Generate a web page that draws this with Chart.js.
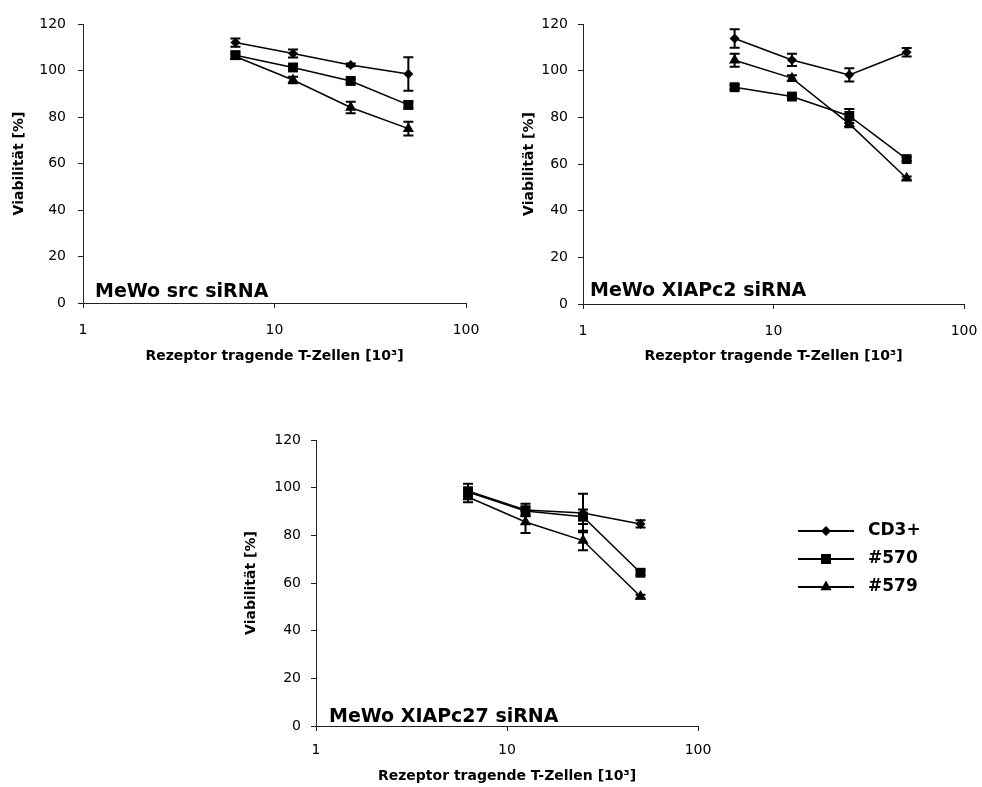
<!DOCTYPE html>
<html>
<head>
<meta charset="utf-8">
<script src="https://cdn.jsdelivr.net/npm/chart.js@4.4.0/dist/chart.umd.min.js"></script>
<style>
  body { margin: 0; width: 982px; height: 787px; overflow: hidden; background: #fff; }
  canvas { position: absolute; }
</style>
</head>
<body>
<canvas id="srcChart" width="480" height="365" style="left:0;top:0"></canvas>
<canvas id="c2Chart" width="492" height="365" style="left:490px;top:0"></canvas>
<canvas id="c27Chart" width="782" height="385" style="left:200px;top:400px"></canvas>
<script>
// T cell numbers (x 10^3)
const cells = [6.25, 12.5, 25, 50];
const seriesNames = ["CD3+", "#570", "#579"];
const yTicks = [0, 20, 40, 60, 80, 100, 120];
const xTicks = [1, 10, 100];

// MeWo src siRNA
const srcCD3 = [112, 107.3, 102.4, 98.5];
const srcCD3Err = [1.8, 1.7, 0.6, 7.2];
const src570 = [106.6, 101.3, 95.5, 85.2];
const src570Err = [1.5, 1, 1, 1.5];
const src579 = [106, 95.9, 84.1, 75];
const src579Err = [1, 1.4, 2.5, 3];

// MeWo XIAPc2 siRNA
const c2CD3 = [113.8, 104.6, 98.2, 107.9];
const c2CD3Err = [4, 2.6, 2.8, 1.8];
const c2570 = [92.9, 88.9, 80.6, 62.1];
const c2570Err = [1, 0.6, 3, 0.8];
const c2579 = [104.5, 96.8, 77.2, 53.9];
const c2579Err = [2.8, 1.2, 1.5, 0.7];

// MeWo XIAPc27 siRNA
const c27CD3 = [98.6, 90.6, 89.4, 84.8];
const c27CD3Err = [3, 2.6, 8.1, 1.5];
const c27570 = [98.2, 90.2, 87.8, 64.3];
const c27570Err = [2, 2, 3, 1];
const c27579 = [96.1, 85.6, 77.8, 54.3];
const c27579Err = [2.2, 4.6, 4.1, 0.8];

const FONT = "'DejaVu Sans', sans-serif";
const markers = [
  { pointStyle: "rectRot", pointRadius: 5 },
  { pointStyle: "rect", pointRadius: 7 },
  { pointStyle: "triangle", pointRadius: 6.5 }
];

const errorBars = {
  id: "errorBars",
  afterDatasetsDraw(chart) {
    const ctx = chart.ctx;
    const yScale = chart.scales.y;
    ctx.save();
    ctx.strokeStyle = "#000";
    ctx.lineWidth = 2;
    chart.data.datasets.forEach((ds, i) => {
      chart.getDatasetMeta(i).data.forEach((pt, j) => {
        const v = ds.data[j].y, e = ds.errors[j];
        const top = yScale.getPixelForValue(v + e);
        const bot = yScale.getPixelForValue(v - e);
        ctx.beginPath();
        ctx.moveTo(pt.x, top); ctx.lineTo(pt.x, bot);
        ctx.moveTo(pt.x - 5, top); ctx.lineTo(pt.x + 5, top);
        ctx.moveTo(pt.x - 5, bot); ctx.lineTo(pt.x + 5, bot);
        ctx.stroke();
      });
    });
    ctx.restore();
  }
};

const panelLabel = {
  id: "panelLabel",
  afterDraw(chart, args, opts) {
    const ctx = chart.ctx, a = chart.chartArea;
    ctx.save();
    ctx.font = "bold 19px " + FONT;
    ctx.fillStyle = "#000";
    ctx.textBaseline = "alphabetic";
    ctx.fillText(opts.text, a.left + opts.dx, a.bottom - opts.dy);
    ctx.restore();
  }
};

function drawMarker(ctx, style, x, y) {
  ctx.beginPath();
  if (style === "rectRot") {
    ctx.moveTo(x, y - 5); ctx.lineTo(x + 5, y); ctx.lineTo(x, y + 5); ctx.lineTo(x - 5, y);
  } else if (style === "rect") {
    ctx.rect(x - 5, y - 5, 10, 10);
  } else {
    ctx.moveTo(x, y - 6.5); ctx.lineTo(x + 5.6, y + 3.25); ctx.lineTo(x - 5.6, y + 3.25);
  }
  ctx.closePath();
  ctx.fill();
}

const sideLegend = {
  id: "sideLegend",
  afterDraw(chart, args, opts) {
    if (!opts.show) return;
    const ctx = chart.ctx;
    ctx.save();
    chart.data.datasets.forEach((ds, i) => {
      const y = opts.y + i * opts.rowGap;
      ctx.strokeStyle = "#000";
      ctx.fillStyle = "#000";
      ctx.lineWidth = 2;
      ctx.beginPath();
      ctx.moveTo(opts.x, y); ctx.lineTo(opts.x + opts.lineLength, y);
      ctx.stroke();
      drawMarker(ctx, ds.pointStyle, opts.x + opts.lineLength / 2, y);
      ctx.font = "bold 17px " + FONT;
      ctx.textBaseline = "middle";
      ctx.fillText(ds.label, opts.x + opts.lineLength + 14, y);
    });
    ctx.restore();
  }
};

function makeSets(vals, errs) {
  return vals.map((v, k) => ({
    label: seriesNames[k],
    data: cells.map((c, i) => ({ x: c, y: v[i] })),
    errors: errs[k],
    borderColor: "#000",
    backgroundColor: "#000",
    borderWidth: 1.5,
    pointBorderWidth: 0,
    pointHoverRadius: markers[k].pointRadius,
    ...markers[k]
  }));
}

function makeChart(id, vals, errs, cfg) {
  new Chart(document.getElementById(id), {
    type: "line",
    data: { datasets: makeSets(vals, errs) },
    plugins: [errorBars, panelLabel, sideLegend],
    options: {
      responsive: false,
      animation: false,
      devicePixelRatio: 1,
      layout: { padding: cfg.pad },
      plugins: {
        legend: { display: false },
        tooltip: { enabled: false },
        panelLabel: cfg.label,
        sideLegend: cfg.legend || { show: false }
      },
      scales: {
        x: {
          type: "logarithmic",
          min: 1,
          max: 100,
          afterBuildTicks: (s) => { s.ticks = xTicks.map((v) => ({ value: v })); },
          afterFit: (s) => {
            s.height = cfg.xh;
            s.paddingLeft = 0;
            s.paddingRight = 0;
          },
          border: { color: "#222", width: 1 },
          grid: { drawOnChartArea: false, tickLength: 5, color: "#222" },
          ticks: {
            color: "#000",
            padding: cfg.xPad,
            maxRotation: 0,
            font: { family: FONT, size: 14 },
            callback: (v) => String(v)
          },
          title: {
            display: true,
            text: "Rezeptor tragende T-Zellen [10³]",
            color: "#000",
            padding: 0,
            font: { family: FONT, size: 14, weight: "bold" }
          }
        },
        y: {
          min: 0,
          max: 120,
          afterBuildTicks: (s) => { s.ticks = yTicks.map((v) => ({ value: v })); },
          afterFit: (s) => {
            s.width = cfg.yw;
            s.paddingTop = 0;
            s.paddingBottom = 0;
          },
          border: { color: "#222", width: 1 },
          grid: { drawOnChartArea: false, tickLength: 5, color: "#222" },
          ticks: {
            color: "#000",
            padding: cfg.yPad,
            font: { family: FONT, size: 14 }
          },
          title: {
            display: true,
            text: "Viabilität [%]",
            color: "#000",
            padding: 0,
            font: { family: FONT, size: 14, weight: "bold" }
          }
        }
      }
    }
  });
}

makeChart("srcChart",
  [srcCD3, src570, src579], [srcCD3Err, src570Err, src579Err],
  { pad: { left: 11, top: 24, right: 14, bottom: 0 }, yw: 72, xh: 62, xPad: 14, yPad: 12,
    label: { text: "MeWo src siRNA", dx: 12, dy: 6 } });

makeChart("c2Chart",
  [c2CD3, c2570, c2579], [c2CD3Err, c2570Err, c2579Err],
  { pad: { left: 31, top: 24, right: 18, bottom: 0 }, yw: 62, xh: 61, xPad: 14, yPad: 10,
    label: { text: "MeWo XIAPc2 siRNA", dx: 7, dy: 8 } });

makeChart("c27Chart",
  [c27CD3, c27570, c27579], [c27CD3Err, c27570Err, c27579Err],
  { pad: { left: 43, top: 40, right: 284, bottom: 0 }, yw: 73, xh: 59, xPad: 11, yPad: 10,
    label: { text: "MeWo XIAPc27 siRNA", dx: 13, dy: 4 },
    legend: { show: true, x: 598, y: 131, rowGap: 28, lineLength: 56 } });
</script>
</body>
</html>
